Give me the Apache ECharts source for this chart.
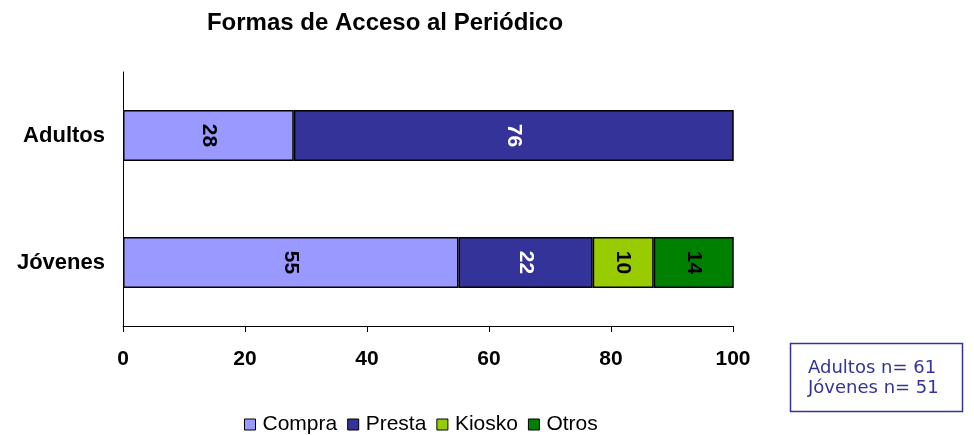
<!DOCTYPE html>
<html><head><meta charset="utf-8">
<script src="https://cdn.jsdelivr.net/npm/echarts@6/dist/echarts.min.js"></script>
<style>html,body{margin:0;padding:0;background:#fff}#c{width:974px;height:435px}</style>
</head><body><div id="c"></div>
<script>
const categories = ['Adultos', 'Jóvenes'];
const seriesNames = ['Compra', 'Presta', 'Kiosko', 'Otros'];
const compra = [28, 55];
const presta = [76, 22];
const kiosko = [null, 10];
const otros = [null, 14];
const xTicks = [0, 20, 40, 60, 80, 100];
const noteLines = ['Adultos n= 61', 'Jóvenes n= 51'];

const colors = ['#9999FF', '#333399', '#99CC00', '#008000'];
const labelColors = ['#000', '#fff', '#000', '#000'];
const values = [compra, presta, kiosko, otros];

const chart = echarts.init(document.getElementById('c'));
chart.setOption({
  animation: false,
  title: {
    text: 'Formas de Acceso al Periódico',
    left: 380, top: 6, textAlign: 'center',
    textStyle: {fontFamily: 'Liberation Sans, Arial', fontWeight: 'bold', fontSize: 24, color: '#000'}
  },
  legend: {
    data: seriesNames,
    left: 239, top: 409,
    icon: 'rect', itemWidth: 11, itemHeight: 11, itemGap: 10,
    itemStyle: {borderColor: '#000', borderWidth: 1},
    textStyle: {fontFamily: 'Liberation Sans, Arial', fontSize: 21, color: '#000', padding: [0, 0, 0, 2]}
  },
  grid: {left: 123, right: 241, top: 72, bottom: 109},
  xAxis: {
    type: 'value', min: xTicks[0], max: xTicks[xTicks.length - 1], interval: 20,
    axisLine: {show: true, lineStyle: {color: '#000', width: 1}},
    axisTick: {show: true, length: 6, lineStyle: {color: '#000'}},
    splitLine: {show: false},
    axisLabel: {fontFamily: 'Liberation Sans, Arial', fontWeight: 'bold', fontSize: 21, color: '#000', margin: 23}
  },
  yAxis: {
    type: 'category', data: categories, inverse: true,
    axisLine: {show: true, lineStyle: {color: '#000', width: 1}},
    axisTick: {show: false},
    axisLabel: {fontFamily: 'Liberation Sans, Arial', fontWeight: 'bold', fontSize: 22, color: '#000', margin: 18}
  },
  series: seriesNames.map((n, i) => ({
    name: n, type: 'bar', stack: 'total', barWidth: 51, clip: true,
    data: values[i],
    itemStyle: {color: colors[i], borderColor: '#000', borderWidth: 1.5},
    label: {
      show: true, position: 'inside', rotate: -90,
      fontFamily: 'Liberation Sans, Arial', fontWeight: 'bold', fontSize: 21,
      color: labelColors[i]
    }
  })),
  graphic: [
    {type: 'rect', shape: {x: 790.5, y: 343.5, width: 172, height: 68},
     style: {fill: '#fff', stroke: '#333399', lineWidth: 1.5}},
    {type: 'text', x: 808, y: 358,
     style: {text: noteLines.join('\n'), fill: '#333399', font: '18px "DejaVu Sans", Verdana', lineHeight: 20}}
  ]
});
</script></body></html>
